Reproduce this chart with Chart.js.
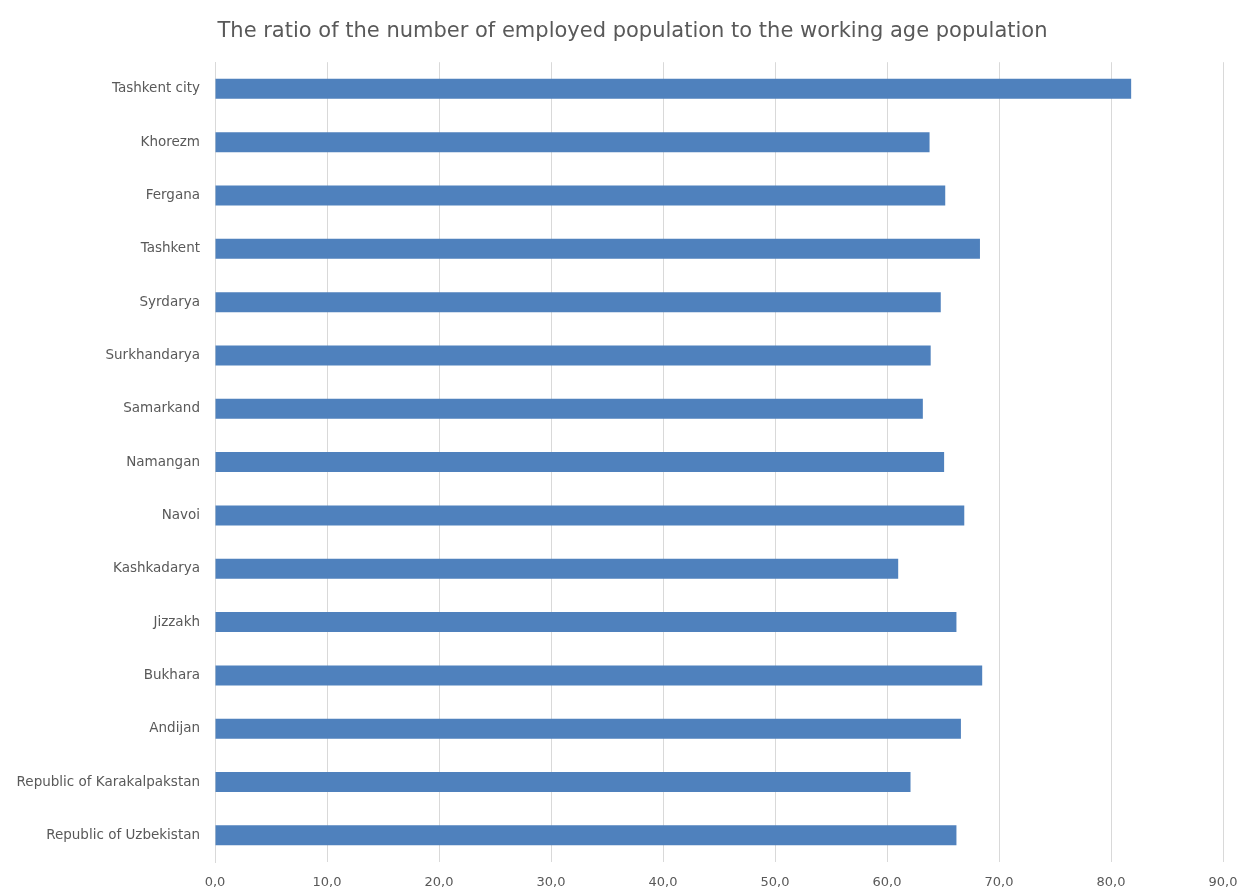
<!DOCTYPE html>
<html>
<head>
<meta charset="utf-8">
<title>Employment ratio by region</title>
<script src="https://cdn.jsdelivr.net/npm/chart.js@4/dist/chart.umd.min.js"></script>
<style>
  html, body { margin: 0; padding: 0; background: #fff; }
  #chart { display: block; }
</style>
</head>
<body>
<canvas id="chart" width="1251" height="892"></canvas>
<script>
// Regions, top to bottom
const regions = [
    'Tashkent city', 'Khorezm', 'Fergana', 'Tashkent', 'Syrdarya',
    'Surkhandarya', 'Samarkand', 'Namangan', 'Navoi', 'Kashkadarya',
    'Jizzakh', 'Bukhara', 'Andijan', 'Republic of Karakalpakstan',
    'Republic of Uzbekistan'
];

// Employed / working age population, %
const employmentRatio = [
    81.8, 63.8, 65.2, 68.3, 64.8,
    63.9, 63.2, 65.1, 66.9, 61.0,
    66.2, 68.5, 66.6, 62.1, 66.2
];

// Axis labels use a decimal comma
const xTickLabels = ['0,0', '10,0', '20,0', '30,0', '40,0', '50,0', '60,0', '70,0', '80,0', '90,0'];

const textColor = '#595959';
const gridColor = '#D9D9D9';
const fontFamily = '"DejaVu Sans", "Open Sans", sans-serif';

// Nudge the title box so the heading sits a bit right of the canvas middle
const titleOffset = {
    id: 'titleOffset',
    afterLayout(chart) {
        if (chart.titleBlock) {
            chart.titleBlock.left = 42;
        }
    }
};

const ctx = document.getElementById('chart').getContext('2d');
new Chart(ctx, {
    type: 'bar',
    data: {
        labels: regions,
        datasets: [{
            data: employmentRatio,
            backgroundColor: '#4F81BD',
            borderWidth: 0,
            barPercentage: 0.75,
            categoryPercentage: 0.5
        }]
    },
    options: {
        indexAxis: 'y',
        responsive: false,
        animation: false,
        layout: {
            padding: { left: 0, right: 28, top: 0, bottom: 0 }
        },
        plugins: {
            legend: { display: false },
            tooltip: { enabled: false },
            title: {
                display: true,
                text: 'The ratio of the number of employed population to the working age population',
                color: textColor,
                font: { family: fontFamily, size: 21, weight: 'normal' },
                padding: { top: 19, bottom: 18 }
            }
        },
        scales: {
            x: {
                min: 0,
                max: 90,
                ticks: {
                    stepSize: 10,
                    color: textColor,
                    font: { family: fontFamily, size: 13 },
                    padding: 13,
                    callback: (value, index) => xTickLabels[index]
                },
                grid: {
                    color: gridColor,
                    lineWidth: 1,
                    drawTicks: false
                },
                border: { display: false },
                afterFit: (scale) => { scale.height = 30; }
            },
            y: {
                ticks: {
                    color: textColor,
                    font: { family: fontFamily, size: 13.5 },
                    padding: 15,
                    autoSkip: false
                },
                grid: { display: false, drawTicks: false },
                border: { display: true, color: gridColor, width: 1 },
                afterFit: (scale) => { scale.width = 215; }
            }
        }
    },
    plugins: [titleOffset]
});
</script>
</body>
</html>
